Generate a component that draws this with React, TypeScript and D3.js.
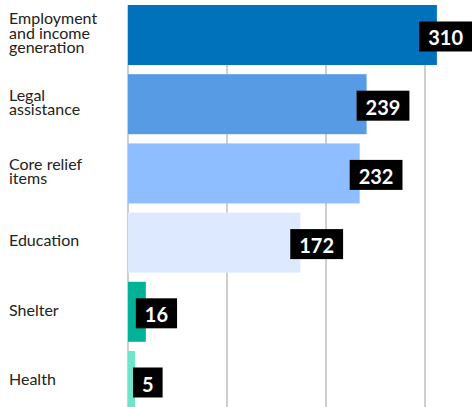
import React, { useEffect, useRef } from "react";
import * as d3 from "d3";

const categoryLines: string[][] = [
  ["Employment", "and income", "generation"],
  ["Legal", "assistance"],
  ["Core relief", "items"],
  ["Education"],
  ["Shelter"],
  ["Health"],
];
const categories = categoryLines.map((l) => l.join(" "));
const values = [310, 239, 232, 172, 16, 5];
const colors = ["#0072BC", "#589BE5", "#8EBEFF", "#DCE9FF", "#00B398", "#6CE5CA"];
const tickValues = [0, 100, 200, 300];

const W = 472;
const H = 407;

export default function App() {
  const ref = useRef<SVGSVGElement | null>(null);

  useEffect(() => {
    const svg = d3.select(ref.current);
    svg.selectAll("*").remove();

    const x = d3.scaleLinear().domain([0, 300]).range([128, 425]);
    const y = d3
      .scaleBand<string>()
      .domain(categories)
      .range([5, 411])
      .paddingInner(0.133)
      .paddingOuter(0);

    // gridlines
    svg
      .append("g")
      .selectAll("line")
      .data(tickValues)
      .join("line")
      .attr("x1", (d) => x(d))
      .attr("x2", (d) => x(d))
      .attr("y1", 5)
      .attr("y2", H)
      .attr("stroke", "#cfcfcf")
      .attr("stroke-width", 2);

    // bars
    svg
      .append("g")
      .selectAll("rect")
      .data(values)
      .join("rect")
      .attr("x", x(0))
      .attr("y", (_, i) => y(categories[i])!)
      .attr("width", (d) => x(d) - x(0) + 2)
      .attr("height", y.bandwidth())
      .attr("fill", (_, i) => colors[i]);

    // category labels
    const lh = 14.5;
    const lab = svg
      .append("g")
      .attr("font-family", "Lato, 'Open Sans', sans-serif")
      .attr("font-size", 16)
      .attr("fill", "#222");
    categoryLines.forEach((lines, i) => {
      const cy = y(categories[i])! + y.bandwidth() / 2 - 2;
      const capH = 11.5;
      const blockH = capH + (lines.length - 1) * lh;
      const firstBaseline = cy - blockH / 2 + capH;
      const t = lab.append("text").attr("x", 9);
      lines.forEach((ln, j) => {
        t.append("tspan")
          .attr("x", 9)
          .attr("y", firstBaseline + j * lh)
          .text(ln);
      });
    });

    // value labels
    const vg = svg.append("g");
    values.forEach((v, i) => {
      const cy = y(categories[i])! + y.bandwidth() / 2 + 1.5;
      const g = vg.append("g");
      const rect = g.append("rect").attr("fill", "#000");
      const txt = g
        .append("text")
        .attr("font-family", "Lato, 'Open Sans', sans-serif")
        .attr("font-weight", 700)
        .attr("font-size", 20)
        .attr("fill", "#fff")
        .attr("text-anchor", "middle")
        .attr("dominant-baseline", "central")
        .text(String(v));
      const tw = (txt.node() as SVGTextElement).getComputedTextLength();
      const bw = tw + 18;
      const bh = 30;
      const end = x(v) + 2;
      let left = Math.max(end - 10, x(0) + 5);
      left = Math.min(left, W - bw);
      rect.attr("x", left).attr("y", cy - bh / 2).attr("width", bw).attr("height", bh);
      txt.attr("x", left + bw / 2).attr("y", cy + 1);
    });
  }, []);

  return (
    <svg
      ref={ref}
      width={W}
      height={H}
      style={{ position: "absolute", left: 0, top: 0, display: "block", background: "#fff" }}
    />
  );
}
